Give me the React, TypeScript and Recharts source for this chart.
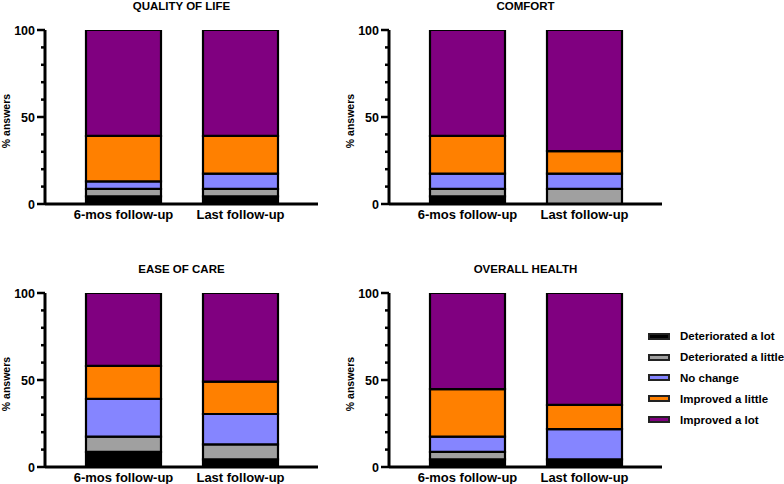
import React from 'react';
import { BarChart, Bar, XAxis, YAxis, Label } from 'recharts';

const categories = ['6-mos follow-up', 'Last follow-up'];
const seriesNames = ['Deteriorated a lot', 'Deteriorated a little', 'No change', 'Improved a little', 'Improved a lot'];
const seriesColors = ['#000000', '#a0a0a0', '#8585ff', '#ff8000', '#800080'];
const yTicks = [0, 10, 20, 30, 40, 50, 60, 70, 80, 90, 100];
const yLabelTicks = [0, 50, 100];

// % answers per series, bottom to top, one array per time point
const qualityOfLife6mos = [4.35, 4.35, 4.35, 26.1, 60.85];
const qualityOfLifeLast = [4.35, 4.35, 8.7, 21.7, 60.9];
const comfort6mos = [4.35, 4.35, 8.7, 21.7, 60.9];
const comfortLast = [0, 8.7, 8.7, 13.0, 69.6];
const easeOfCare6mos = [8.7, 8.7, 21.7, 19.0, 41.9];
const easeOfCareLast = [4.35, 8.7, 17.4, 18.6, 50.95];
const overallHealth6mos = [4.35, 4.35, 8.7, 27.4, 55.2];
const overallHealthLast = [4.35, 0, 17.4, 13.9, 64.35];

const FONT = '"Liberation Sans", Arial, Helvetica, sans-serif';
const W = 330;
const H = 222;

const YTick = (props: any) => {
  const { x, y, payload } = props;
  const major = yLabelTicks.includes(payload.value);
  const len = major ? 8 : 4;
  return (
    <g>
      <line x1={x - len} x2={x} y1={y} y2={y} stroke="#000" strokeWidth={2.5} />
      {major && (
        <text x={x - 10} y={y} dy="0.36em" textAnchor="end" fontSize={12.5} fontWeight={700} fill="#000" fontFamily={FONT}>
          {payload.value}
        </text>
      )}
    </g>
  );
};

const YTitle = (props: any) => {
  const { viewBox } = props;
  const cx = viewBox.x + 6;
  const cy = viewBox.y + viewBox.height / 2 + 4;
  return (
    <text
      x={cx}
      y={cy}
      transform={`rotate(-90 ${cx} ${cy})`}
      textAnchor="middle"
      dominantBaseline="central"
      fontSize={10.5}
      fontWeight={700}
      fill="#000"
      fontFamily={FONT}
    >
      % answers
    </text>
  );
};

function Panel({ title, values, left, top }: { title: string; values: number[][]; left: number; top: number }) {
  const data = categories.map((name, i) => {
    const row: any = { name };
    seriesNames.forEach((s, j) => {
      row[s] = values[i][j];
    });
    return row;
  });

  return (
    <div style={{ position: 'absolute', left, top, width: W, height: H }}>
      <div
        style={{
          position: 'absolute',
          left: 45,
          width: 273,
          top: 0,
          textAlign: 'center',
          fontSize: 11.5,
          fontWeight: 700,
          lineHeight: '12px',
          fontFamily: FONT,
        }}
      >
        {title}
      </div>
      <BarChart width={W} height={H} data={data} margin={{ top: 30, right: 12, bottom: 0, left: 0 }} barSize={75}>
        <XAxis
          dataKey="name"
          axisLine={{ stroke: '#000', strokeWidth: 3 }}
          tickLine={false}
          tickSize={0}
          tickMargin={6}
          height={18}
          interval={0}
          padding={{ left: 20, right: 19 }}
          tick={{ fill: '#000', fontSize: 13, fontWeight: 700, fontFamily: FONT }}
        />
        <YAxis
          width={45}
          domain={[0, 100]}
          ticks={yTicks}
          interval={0}
          allowDataOverflow
          axisLine={{ stroke: '#000', strokeWidth: 3 }}
          tickLine={false}
          tickSize={0}
          tickMargin={0}
          tick={<YTick />}
        >
          <Label content={<YTitle />} />
        </YAxis>
        {seriesNames.map((s, j) => (
          <Bar key={s} dataKey={s} stackId="a" fill={seriesColors[j]} stroke="#000" strokeWidth={2.2} isAnimationActive={false} />
        ))}
      </BarChart>
    </div>
  );
}

export default function App() {
  return (
    <div style={{ position: 'absolute', left: 0, top: 0, width: 784, height: 484, overflow: 'hidden', background: '#fff', fontFamily: FONT }}>
      <Panel title="QUALITY OF LIFE" values={[qualityOfLife6mos, qualityOfLifeLast]} left={0} top={0} />
      <Panel title="COMFORT" values={[comfort6mos, comfortLast]} left={344} top={0} />
      <Panel title="EASE OF CARE" values={[easeOfCare6mos, easeOfCareLast]} left={0} top={263} />
      <Panel title="OVERALL HEALTH" values={[overallHealth6mos, overallHealthLast]} left={344} top={263} />
      <div style={{ position: 'absolute', left: 648, top: 326 }}>
        {seriesNames.map((s, j) => (
          <div key={s} style={{ display: 'flex', alignItems: 'center', height: 20.8 }}>
            <div
              style={{
                width: 18,
                height: 3,
                background: seriesColors[j],
                border: '2px solid #222',
                marginRight: 10,
              }}
            />
            <span style={{ fontSize: 11.5, fontWeight: 700, whiteSpace: 'nowrap' }}>{s}</span>
          </div>
        ))}
      </div>
    </div>
  );
}
